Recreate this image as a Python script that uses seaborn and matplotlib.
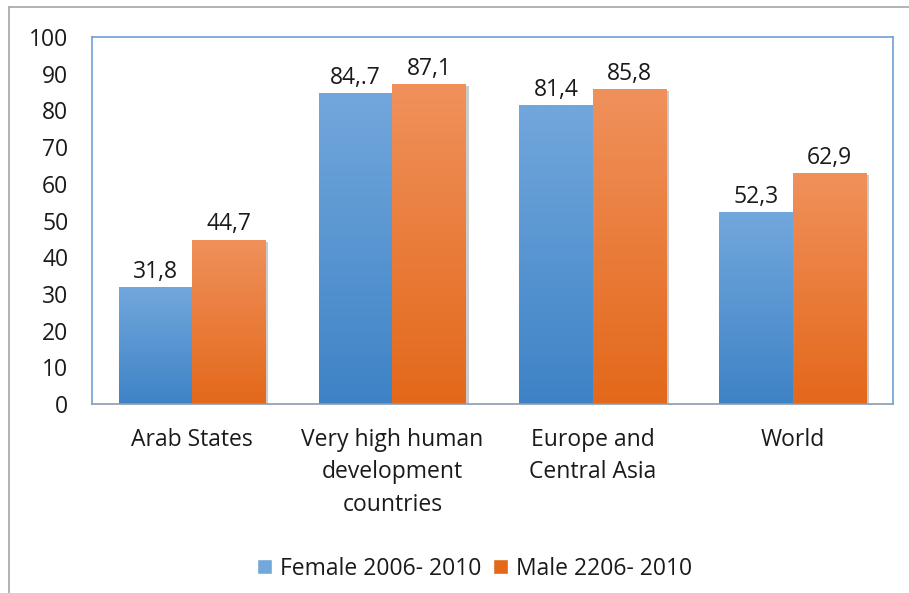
import matplotlib
matplotlib.use("Agg")
import matplotlib.pyplot as plt
import seaborn as sns
import pandas as pd
import numpy as np
from matplotlib.colors import LinearSegmentedColormap
from matplotlib.lines import Line2D
from matplotlib.patches import Patch
import matplotlib.patheffects as pe

categorias = ["Arab States", "Very high human\ndevelopment\ncountries",
              "Europe and\nCentral Asia", "World"]
series = ["Female 2006- 2010", "Male 2206- 2010"]
valores_female = [31.8, 84.7, 81.4, 52.3]
valores_male = [44.7, 87.1, 85.8, 62.9]
rotulos_female = ["31,8", "84,.7", "81,4", "52,3"]
rotulos_male = ["44,7", "87,1", "85,8", "62,9"]

C_TEXTO = "#1a1a1a"
AZUL_TOPO, AZUL_BASE = "#72a7dc", "#3e83c6"
LARANJA_TOPO, LARANJA_BASE = "#f0915c", "#e3681a"
FS = 16.5

df = pd.DataFrame({
    "categoria": categorias * 2,
    "serie": [series[0]] * 4 + [series[1]] * 4,
    "valor": valores_female + valores_male,
})

sns.set_theme(style="white")
plt.rcParams["font.family"] = ["Open Sans", "DejaVu Sans"]

fig = plt.figure(figsize=(9.09, 5.93), dpi=100)
ax = fig.add_axes([0.1012, 0.3187, 0.8812, 0.6189])

sns.barplot(data=df, x="categoria", y="valor", hue="serie",
            palette=[AZUL_BASE, LARANJA_BASE], width=0.735, ax=ax,
            saturation=1, legend=True)

cmaps = [LinearSegmentedColormap.from_list("az", [AZUL_BASE, AZUL_TOPO]),
         LinearSegmentedColormap.from_list("la", [LARANJA_BASE, LARANJA_TOPO])]
rotulos = [rotulos_female, rotulos_male]

for i, cont in enumerate(ax.containers):
    for j, p in enumerate(cont.patches):
        x0, y0 = p.get_x(), p.get_y()
        w, h = p.get_width(), p.get_height()
        p.set_edgecolor("none")
        p.set_path_effects([pe.SimplePatchShadow(offset=(2, -1.5), alpha=0.3, shadow_rgbFace="#555555"), pe.Normal()])
        grad = np.linspace(0, 1, 256).reshape(-1, 1)
        im = ax.imshow(grad, cmap=cmaps[i], origin="lower", aspect="auto",
                       extent=[x0, x0 + w, y0, y0 + h], zorder=p.get_zorder() + 0.1)
        im.set_clip_path(p)
        ax.annotate(rotulos[i][j], (x0 + w / 2, y0 + h), xytext=(0, 2.5),
                    textcoords="offset points", ha="center", va="bottom",
                    fontsize=FS, color=C_TEXTO)

ax.set_xlim(-0.5, 3.5)
ax.set_ylim(0, 100)
ax.set_yticks(range(0, 101, 10))
ax.set_xlabel("")
ax.set_ylabel("")
ax.tick_params(axis="both", length=0, labelsize=FS, colors=C_TEXTO)
ax.tick_params(axis="y", pad=17)
ax.tick_params(axis="x", pad=17)
for lbl in ax.get_xticklabels():
    lbl.set_linespacing(1.48)
    lbl.set_verticalalignment("top")

for lado in ["top", "right", "left"]:
    ax.spines[lado].set_color("#6d9fd6")
    ax.spines[lado].set_linewidth(1.2)
ax.spines["bottom"].set_color("#8a9bb0")
ax.spines["bottom"].set_linewidth(1.2)

ax.legend_.remove()
handles = [Patch(facecolor=AZUL_TOPO), Patch(facecolor=LARANJA_BASE)]
fig.legend(handles, series, loc="center", bbox_to_anchor=(0.522, 0.041),
           ncol=2, frameon=False, fontsize=FS, handlelength=0.65,
           handleheight=0.65, handletextpad=0.35, columnspacing=0.5,
           labelcolor=C_TEXTO)

fig.add_artist(Line2D([0.0099, 1.0], [0.988, 0.988], color="#a6a6a6", lw=1.2, transform=fig.transFigure))
fig.add_artist(Line2D([0.0099, 0.0099], [0.0, 0.988], color="#a6a6a6", lw=1.2, transform=fig.transFigure))

fig.savefig("out.png", dpi=100)
plt.close(fig)
